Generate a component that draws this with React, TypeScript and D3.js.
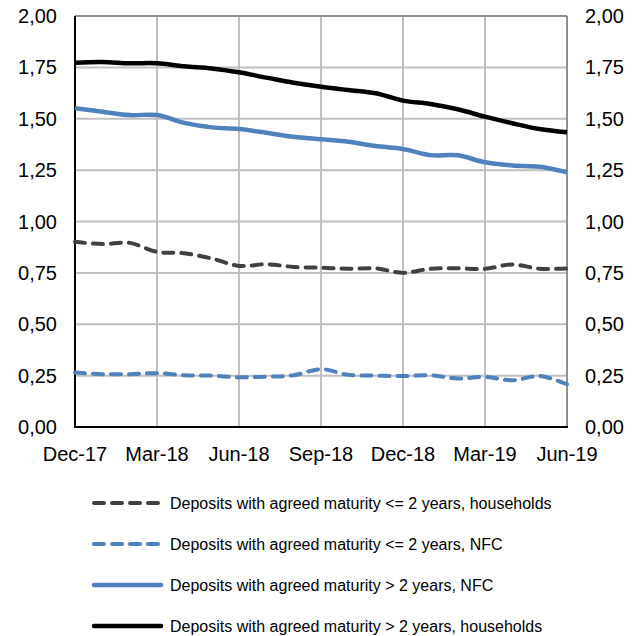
import React from "react";
import * as d3 from "d3";

const months = [
  "Dec-17", "Jan-18", "Feb-18", "Mar-18", "Apr-18", "May-18", "Jun-18",
  "Jul-18", "Aug-18", "Sep-18", "Oct-18", "Nov-18", "Dec-18", "Jan-19",
  "Feb-19", "Mar-19", "Apr-19", "May-19", "Jun-19"
];
const tickLabels = ["Dec-17", "Mar-18", "Jun-18", "Sep-18", "Dec-18", "Mar-19", "Jun-19"];
const yTicks = [0, 0.25, 0.5, 0.75, 1, 1.25, 1.5, 1.75, 2];

const hhShort = [0.901, 0.89, 0.896, 0.852, 0.845, 0.82, 0.784, 0.792, 0.779, 0.775, 0.77, 0.772, 0.75, 0.77, 0.772, 0.77, 0.791, 0.77, 0.772];
const nfcShort = [0.265, 0.257, 0.257, 0.262, 0.252, 0.25, 0.242, 0.245, 0.252, 0.281, 0.254, 0.25, 0.248, 0.252, 0.236, 0.244, 0.227, 0.248, 0.208];
const nfcLong = [1.551, 1.534, 1.518, 1.518, 1.48, 1.458, 1.45, 1.432, 1.412, 1.4, 1.388, 1.367, 1.353, 1.323, 1.322, 1.288, 1.273, 1.266, 1.239];
const hhLong = [1.773, 1.776, 1.77, 1.77, 1.755, 1.745, 1.726, 1.7, 1.675, 1.656, 1.64, 1.624, 1.588, 1.572, 1.546, 1.51, 1.478, 1.45, 1.434];

const series = [
  { name: "Deposits with agreed maturity <= 2 years, households", values: hhShort, color: "#404040", dash: "10,8", width: 4 },
  { name: "Deposits with agreed maturity <= 2 years, NFC", values: nfcShort, color: "#4f81bd", dash: "10,8", width: 4 },
  { name: "Deposits with agreed maturity > 2 years, NFC", values: nfcLong, color: "#4f81bd", dash: null, width: 4.5 },
  { name: "Deposits with agreed maturity > 2 years, households", values: hhLong, color: "#000000", dash: null, width: 4.5 }
];

const W = 639;
const H = 636;
const left = 75;
const right = 567;
const top = 16;
const bottom = 427;

export default function App() {
  const x = d3.scalePoint<string>().domain(months).range([left, right]);
  const y = d3.scaleLinear().domain([0, 2]).range([bottom, top]);
  const line = d3
    .line<number>()
    .x((_, i) => x(months[i]) as number)
    .y(d => y(d))
    .curve(d3.curveCatmullRom.alpha(0.5));
  const fmt = (v: number) => v.toFixed(2).replace(".", ",");
  const font = "'Liberation Sans', Arial, sans-serif";

  return (
    <svg
      width={W}
      height={H}
      style={{ position: "absolute", left: 0, top: 0, background: "#fff" }}
      fontFamily={font}
    >
      {/* grid */}
      {yTicks.map(t => (
        <line key={"h" + t} x1={left} x2={right} y1={y(t)} y2={y(t)} stroke="#c0c0c0" strokeWidth={2} />
      ))}
      {tickLabels.map(m => (
        <line key={"v" + m} x1={x(m)} x2={x(m)} y1={top} y2={bottom} stroke="#c0c0c0" strokeWidth={2} />
      ))}
      <line x1={left} x2={right} y1={top} y2={top} stroke="#808080" strokeWidth={1.5} />
      <line x1={right} x2={right} y1={top} y2={bottom} stroke="#808080" strokeWidth={1.5} />
      <line x1={left} x2={left} y1={top} y2={bottom + 1} stroke="#000" strokeWidth={2} />
      <line x1={left} x2={right + 1} y1={bottom} y2={bottom} stroke="#000" strokeWidth={2} />

      {/* axes labels */}
      {yTicks.map(t => (
        <g key={"l" + t}>
          <text x={57} y={y(t)} dy="0.35em" textAnchor="end" fontSize={20} fill="#000">{fmt(t)}</text>
          <text x={585} y={y(t)} dy="0.35em" textAnchor="start" fontSize={20} fill="#000">{fmt(t)}</text>
        </g>
      ))}
      {tickLabels.map(m => (
        <text key={"x" + m} x={x(m)} y={461} textAnchor="middle" fontSize={20} fill="#000">{m}</text>
      ))}

      {/* lines */}
      {series.map(s => (
        <path
          key={s.name}
          d={line(s.values) || ""}
          fill="none"
          stroke={s.color}
          strokeWidth={s.width}
          strokeDasharray={s.dash || undefined}
          strokeLinecap={s.dash ? "round" : "butt"}
        />
      ))}

      {/* legend */}
      {series.map((s, i) => {
        const ly = 503 + i * 41;
        return (
          <g key={"lg" + s.name}>
            <line
              x1={94}
              x2={161}
              y1={ly}
              y2={ly}
              stroke={s.color}
              strokeWidth={s.width}
              strokeDasharray={s.dash || undefined}
              strokeLinecap="round"
            />
            <text x={170} y={ly} dy="0.35em" fontSize={16} fill="#000">{s.name}</text>
          </g>
        );
      })}
    </svg>
  );
}
